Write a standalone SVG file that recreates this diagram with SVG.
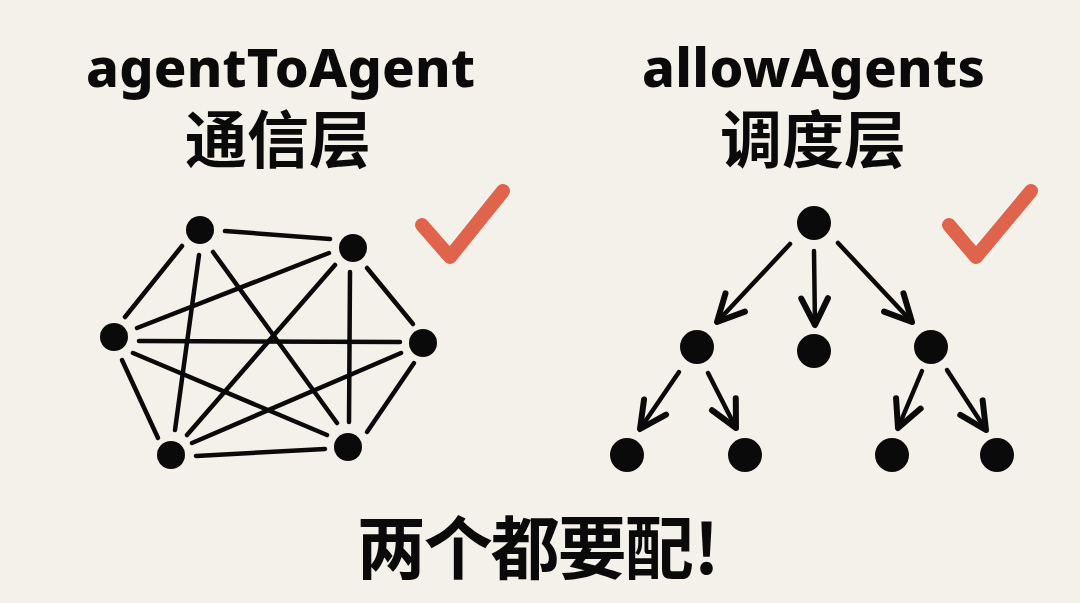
<svg xmlns="http://www.w3.org/2000/svg" width="1080" height="603" viewBox="0 0 1080 603">
  <defs>
    <style>
      .title { font-family: "Noto Sans", "Liberation Sans", Arial, sans-serif; font-weight: 800; font-size: 54px; fill: #0a0a0a; text-anchor: middle; }
      .cjk { font-family: "Noto Sans CJK SC", "Noto Sans", sans-serif; font-weight: bold; font-size: 62px; fill: #0a0a0a; text-anchor: middle; }
      .big { font-family: "Noto Sans CJK SC", "Noto Sans", sans-serif; font-weight: bold; font-size: 69px; fill: #0a0a0a; text-anchor: middle; letter-spacing: -2px; }
      .edge { stroke: #0a0a0a; stroke-width: 4.5; stroke-linecap: round; fill: none; }
      .arrow { stroke: #0a0a0a; stroke-width: 4.5; stroke-linecap: round; fill: none; marker-end: url(#head); }
      .node { fill: #0a0a0a; }
      .check { stroke: #e0634b; stroke-width: 14; stroke-linecap: round; stroke-linejoin: round; fill: none; }
    </style>
    <marker id="head" markerUnits="userSpaceOnUse" orient="auto" refX="0" refY="0" markerWidth="40" markerHeight="40" viewBox="-25 -15 30 30" overflow="visible">
      <path d="M-20,-10 L0,0 L-20,10" fill="none" stroke="#0a0a0a" stroke-width="4.5" stroke-linecap="round" stroke-linejoin="round"/>
    </marker>
  </defs>
  <rect width="1080" height="603" fill="#f4f0ea"/>

  <g id="title-left">
    <text class="title" x="280.5" y="87" textLength="389" lengthAdjust="spacing">agentToAgent</text>
    <text class="cjk" x="278" y="163">通信层</text>
  </g>
  <g id="title-right">
    <text class="title" x="813.5" y="87" textLength="343" lengthAdjust="spacing">allowAgents</text>
    <text class="cjk" x="813" y="163">调度层</text>
  </g>

  <g id="connectors-mesh">
    <line class="edge" x1="225" y1="231" x2="330" y2="239"/>
    <line class="edge" x1="182" y1="246" x2="125" y2="317"/>
    <line class="edge" x1="199" y1="255" x2="175" y2="430"/>
    <line class="edge" x1="213" y1="252" x2="337" y2="423"/>
    <line class="edge" x1="329" y1="253" x2="137" y2="328"/>
    <line class="edge" x1="335" y1="265" x2="187" y2="435"/>
    <line class="edge" x1="350" y1="272" x2="349" y2="422"/>
    <line class="edge" x1="367" y1="268" x2="413" y2="324"/>
    <line class="edge" x1="139" y1="341" x2="400" y2="342"/>
    <line class="edge" x1="133" y1="353" x2="327" y2="435"/>
    <line class="edge" x1="122" y1="360" x2="158" y2="438"/>
    <line class="edge" x1="401" y1="353" x2="192" y2="443"/>
    <line class="edge" x1="414" y1="363" x2="367" y2="432"/>
    <line class="edge" x1="196" y1="456" x2="325" y2="449"/>
  </g>

  <g id="mesh-nodes">
    <circle id="m-tl" class="node" cx="200" cy="230" r="14"/>
    <circle id="m-tr" class="node" cx="353" cy="248" r="14"/>
    <circle id="m-l" class="node" cx="114" cy="337" r="14"/>
    <circle id="m-r" class="node" cx="423" cy="343" r="14"/>
    <circle id="m-bl" class="node" cx="171" cy="455" r="14"/>
    <circle id="m-br" class="node" cx="348" cy="447" r="14"/>
  </g>

  <g id="check-left">
    <path class="check" d="M422,225 L450,257 L503,191"/>
  </g>
  <g id="check-right">
    <path class="check" d="M949,225 L976,257 L1031,191"/>
  </g>

  <g id="connectors-tree">
    <line class="arrow" x1="790" y1="244" x2="717" y2="322"/>
    <line class="arrow" x1="814" y1="251" x2="815" y2="325"/>
    <line class="arrow" x1="838" y1="243" x2="912" y2="322"/>
    <line class="arrow" x1="679" y1="372" x2="640" y2="429"/>
    <line class="arrow" x1="708" y1="373" x2="736" y2="428"/>
    <line class="arrow" x1="922" y1="371" x2="898" y2="428"/>
    <line class="arrow" x1="947" y1="370" x2="986" y2="430"/>
  </g>

  <g id="tree-nodes">
    <circle id="t-root" class="node" cx="814" cy="223" r="17"/>
    <circle id="t-ml" class="node" cx="697" cy="347" r="17"/>
    <circle id="t-mc" class="node" cx="814" cy="351" r="17"/>
    <circle id="t-mr" class="node" cx="931" cy="347" r="17"/>
    <circle id="t-b1" class="node" cx="627" cy="455" r="17"/>
    <circle id="t-b2" class="node" cx="745" cy="455" r="17"/>
    <circle id="t-b3" class="node" cx="892" cy="455" r="17"/>
    <circle id="t-b4" class="node" cx="997" cy="455" r="17"/>
  </g>

  <g id="caption">
    <text class="big" x="537" y="574">两个都要配<tspan dx="2">!</tspan></text>
  </g>
</svg>
